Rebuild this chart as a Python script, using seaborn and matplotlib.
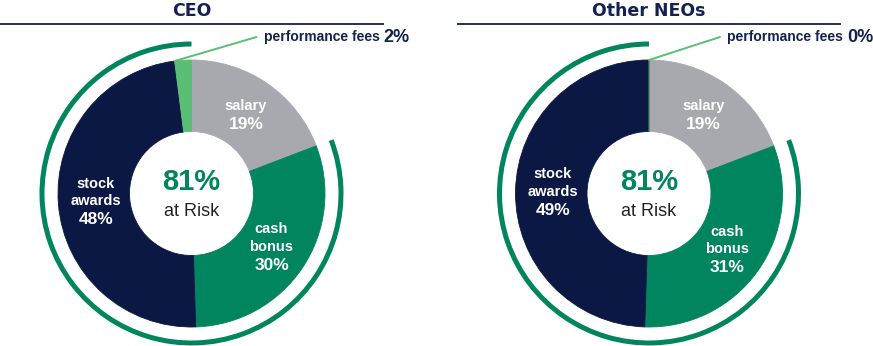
import matplotlib
matplotlib.use("Agg")
import matplotlib.pyplot as plt
import seaborn as sns
import numpy as np

# ---- data ----
panel_titles = ["CEO", "Other NEOs"]
categories = ["salary", "cash\nbonus", "stock\nawards", "performance fees"]
ceo_values = [19, 30, 48, 2]
neo_values = [19, 31, 49, 0]
at_risk = ["81%", "81%"]
at_risk_flags = [False, True, True, True]   # which components are "at risk"

# ---- style ----
sns.set_theme(style="white")
plt.rcParams['font.family'] = ['Liberation Sans', 'DejaVu Sans']

NAVY = "#0B1843"
GREEN = "#00855E"
GRAY = "#A7A9AE"
LIGHTGREEN = "#5CBE74"
TITLE = "#13224F"
slice_colors = [GRAY, GREEN, NAVY, LIGHTGREEN]
label_font = ['Liberation Sans', 'DejaVu Sans']

W, H = 873, 346
fig = plt.figure(figsize=(W / 100, H / 100), dpi=100)
ax = fig.add_axes([0, 0, 1, 1])

panels = [
    dict(values=ceo_values, cx=191.5, title_x=192, line=(0, 384), text_dx=72),
    dict(values=neo_values, cx=649.0, title_x=649, line=(457, 841), text_dx=78),
]
cy = H - 193.5
R = 133.5
HOLE = 62

for i, p in enumerate(panels):
    vals = p["values"]
    cx = p["cx"]
    wedges, _ = ax.pie(vals, colors=slice_colors, startangle=90, counterclock=False,
                       radius=R, center=(cx, cy), wedgeprops=dict(width=R - HOLE),
                       normalize=True)
    for w in wedges:
        w.set_edgecolor(w.get_facecolor())
        w.set_linewidth(0.6)

    # outer ring around at-risk portion
    safe = sum(v for v, f in zip(vals, at_risk_flags) if not f)
    risky = sum(v for v, f in zip(vals, at_risk_flags) if f)
    ax.pie([safe, risky], colors=["none", GREEN], startangle=90,
           counterclock=False, radius=152, center=(cx, cy),
           wedgeprops=dict(width=5, linewidth=0), normalize=True)

    # slice labels (first three)
    for k in range(3):
        w = wedges[k]
        mid = np.deg2rad((w.theta1 + w.theta2) / 2)
        lx = cx + 0.72 * R * np.cos(mid)
        ly = cy + 0.72 * R * np.sin(mid)
        name_lines = categories[k].split("\n")
        n = len(name_lines)
        step = 17.5
        total = n + 1
        top = ly + step * (total - 1) / 2
        for j, t in enumerate(name_lines):
            ax.text(lx, top - j * step, t, ha="center", va="center", color="white",
                    fontsize=10.5, fontweight="bold", family=label_font)
        ax.text(lx, top - n * step - 1, f"{vals[k]}%", ha="center", va="center",
                color="white", fontsize=12.5, fontweight="bold", family=label_font)

    # center text
    ax.text(cx, cy + 11, at_risk[i], ha="center", va="center", color=GREEN,
            fontsize=21, fontweight="bold")
    ax.text(cx, cy - 18, "at Risk", ha="center", va="center", color="#222222",
            fontsize=13)

    # title and rule
    ax.text(p["title_x"], H - 11, panel_titles[i], ha="center", va="center",
            color=TITLE, fontsize=12.5, fontweight="bold", family=['DejaVu Sans'])
    ax.plot(p["line"], [H - 24, H - 24], color=TITLE, lw=1.3, solid_capstyle="butt")

    # performance fees leader
    fw = wedges[3]
    ang = np.deg2rad(max(fw.theta1, fw.theta2))
    sx = cx + R * np.cos(ang)
    sy = cy + R * np.sin(ang)
    ex, ey = cx + p["text_dx"] - 7, H - 37
    ax.plot([sx, ex], [sy, ey], color=LIGHTGREEN, lw=1.4)
    t1 = ax.text(cx + p["text_dx"], ey, "performance fees ", ha="left", va="center",
                 color=TITLE, fontsize=10, fontweight="bold", family=label_font)
    ax.annotate(f"{vals[3]}%", xycoords=t1, xy=(1, 0.5), va="center", ha="left",
                color=TITLE, fontsize=13, fontweight="bold")

ax.set_xlim(0, W)
ax.set_ylim(0, H)
ax.set_aspect("equal")
ax.axis("off")
fig.savefig("out.png", dpi=100)
